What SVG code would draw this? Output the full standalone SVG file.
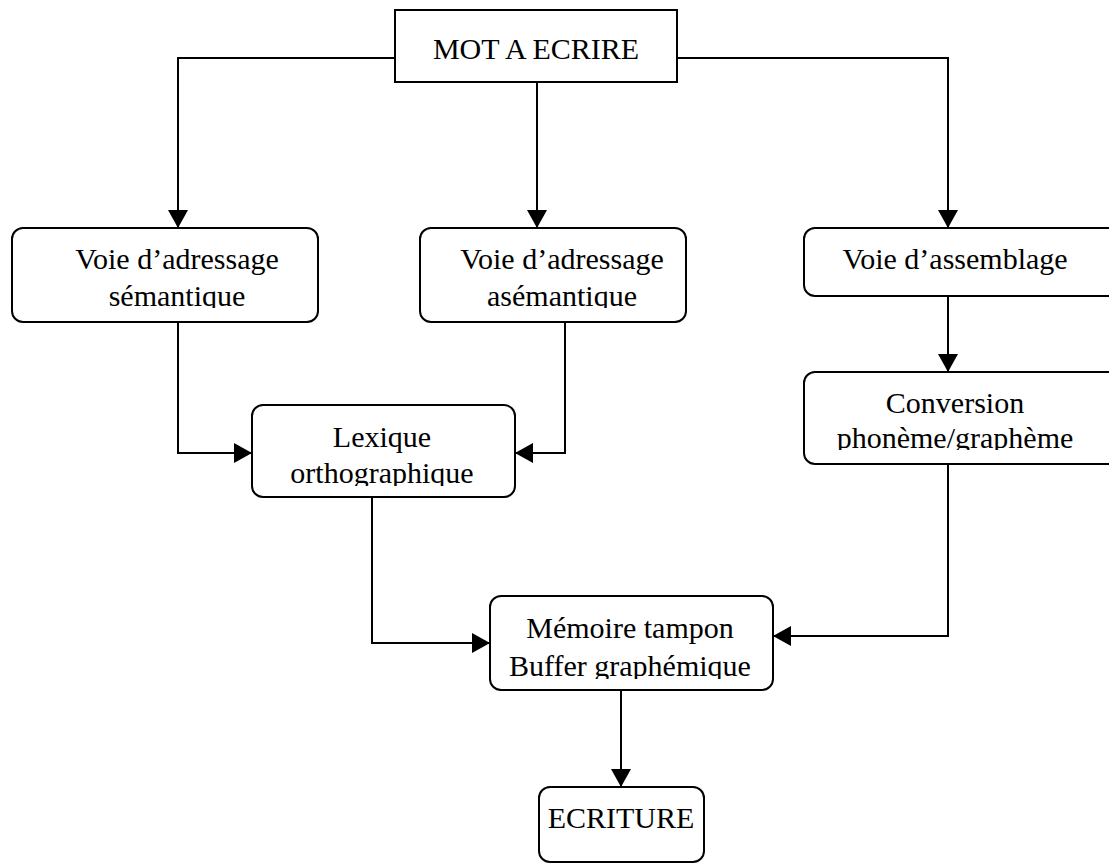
<svg xmlns="http://www.w3.org/2000/svg" width="1109" height="864" viewBox="0 0 1109 864">
<style>
.box{fill:#fff;stroke:#000;stroke-width:2}
.t{font-family:"Liberation Serif","Times New Roman",serif;font-size:30px;fill:#000;text-anchor:middle}
.c{fill:none;stroke:#000;stroke-width:2}
</style>
<defs>
<marker id="ah" markerUnits="userSpaceOnUse" markerWidth="18" markerHeight="20" refX="17" refY="10" orient="auto">
<path d="M0,0 L18,10 L0,20 Z" fill="#000"/>
</marker>
<clipPath id="c1"><rect x="0" y="220" width="400" height="88"/></clipPath>
<clipPath id="c2"><rect x="400" y="220" width="350" height="88"/></clipPath>
<clipPath id="c4"><rect x="790" y="365" width="330" height="85"/></clipPath>
<clipPath id="c5"><rect x="240" y="400" width="290" height="86"/></clipPath>
<clipPath id="c6"><rect x="480" y="590" width="310" height="89"/></clipPath>
</defs>
<g id="connectors">
<path class="c" d="M395,58 H178 V227" marker-end="url(#ah)"/>
<path class="c" d="M677,58 H948 V227" marker-end="url(#ah)"/>
<path class="c" d="M537,82 V227" marker-end="url(#ah)"/>
<path class="c" d="M948,296 V371" marker-end="url(#ah)"/>
<path class="c" d="M178,322 V453 H251" marker-end="url(#ah)"/>
<path class="c" d="M565,322 V453 H516" marker-end="url(#ah)"/>
<path class="c" d="M372,497 V643 H489" marker-end="url(#ah)"/>
<path class="c" d="M948,464 V636 H774" marker-end="url(#ah)"/>
<path class="c" d="M621,690 V786" marker-end="url(#ah)"/>
</g>
<g id="mot">
<rect class="box" x="395" y="10" width="282" height="72"/>
<text class="t" x="536" y="59">MOT A ECRIRE</text>
</g>
<g id="semantique">
<rect class="box" x="12" y="228" width="306" height="94" rx="11"/>
<g clip-path="url(#c1)"><text class="t" x="177" y="269">Voie d’adressage</text><text class="t" x="177" y="306">sémantique</text></g>
</g>
<g id="asemantique">
<rect class="box" x="420" y="228" width="266" height="94" rx="11"/>
<g clip-path="url(#c2)"><text class="t" x="562" y="269">Voie d’adressage</text><text class="t" x="562" y="306">asémantique</text></g>
</g>
<g id="assemblage">
<rect class="box" x="804" y="228" width="320" height="68" rx="11"/>
<text class="t" x="955" y="269">Voie d’assemblage</text>
</g>
<g id="conversion">
<rect class="box" x="804" y="372" width="320" height="92" rx="11"/>
<g clip-path="url(#c4)"><text class="t" x="955" y="413">Conversion</text><text class="t" x="955" y="448">phonème/graphème</text></g>
</g>
<g id="lexique">
<rect class="box" x="252" y="405" width="263" height="92" rx="11"/>
<g clip-path="url(#c5)"><text class="t" x="382" y="447">Lexique</text><text class="t" x="382" y="483">orthographique</text></g>
</g>
<g id="memoire">
<rect class="box" x="490" y="596" width="283" height="94" rx="11"/>
<g clip-path="url(#c6)"><text class="t" x="630" y="638">Mémoire tampon</text><text class="t" x="630" y="676">Buffer graphémique</text></g>
</g>
<g id="ecriture">
<rect class="box" x="539" y="787" width="165" height="75" rx="11"/>
<text class="t" x="621" y="828">ECRITURE</text>
</g>
</svg>
